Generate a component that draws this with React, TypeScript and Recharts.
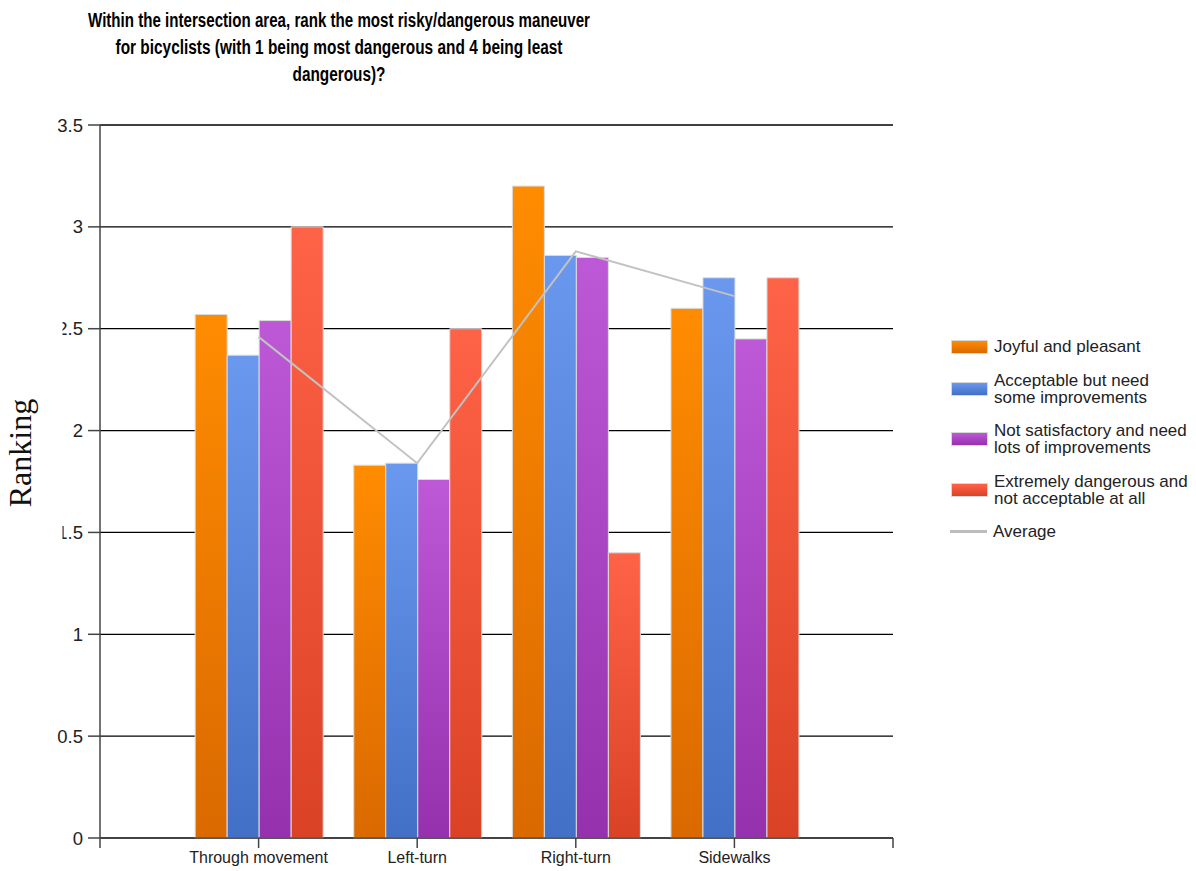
import React from "react";
import {
  ComposedChart,
  Bar,
  Line,
  XAxis,
  YAxis,
  CartesianGrid,
} from "recharts";

const titleLines = [
  "Within the intersection area, rank the most risky/dangerous maneuver",
  "for bicyclists (with 1 being most dangerous and 4 being least",
  "dangerous)?",
];
const categories = ["Through movement", "Left-turn", "Right-turn", "Sidewalks"];
const joyful = [2.57, 1.83, 3.2, 2.6];
const acceptable = [2.37, 1.84, 2.86, 2.75];
const notSatisfactory = [2.54, 1.76, 2.85, 2.45];
const extremely = [3.0, 2.5, 1.4, 2.75];
const average = [2.46, 1.84, 2.88, 2.66];
const yTicks = [0, 0.5, 1, 1.5, 2, 2.5, 3, 3.5];
const xTicks = [0, 1, 2, 3, 4, 5];

const seriesNames = [
  "Joyful and pleasant",
  "Acceptable but need some improvements",
  "Not satisfactory and need lots of improvements",
  "Extremely dangerous and not acceptable at all",
];
const averageName = "Average";

const series = [
  { key: "joyful", name: seriesNames[0], top: "#FF8C00", bottom: "#DA6900" },
  { key: "acceptable", name: seriesNames[1], top: "#6A98EE", bottom: "#4270C6" },
  { key: "notSatisfactory", name: seriesNames[2], top: "#BD58D6", bottom: "#9631AE" },
  { key: "extremely", name: seriesNames[3], top: "#FF6347", bottom: "#DA4226" },
];

const data = categories.map((c, i) => ({
  x: i + 1,
  category: c,
  joyful: joyful[i],
  acceptable: acceptable[i],
  notSatisfactory: notSatisfactory[i],
  extremely: extremely[i],
  avg: average[i],
}));

const FONT = "'Liberation Sans', Arial, sans-serif";
const TEXT = "#222";

const RankingLabel = () => (
  <text
    x={0}
    y={0}
    transform="translate(31,453) rotate(-90)"
    textAnchor="middle"
    fontFamily="'Liberation Serif', 'Times New Roman', serif"
    fontSize={32}
    fill="#111"
  >
    Ranking
  </text>
);

export default function App() {
  return (
    <div
      style={{
        position: "absolute",
        left: 0,
        top: 0,
        width: 1196,
        height: 871,
        background: "#fff",
        overflow: "hidden",
      }}
    >
      <svg width={0} height={0} style={{ position: "absolute" }}>
        <defs>
          {series.map((s) => (
            <linearGradient key={s.key} id={`grad-${s.key}`} x1="0" y1="0" x2="0" y2="1">
              <stop offset="0%" stopColor={s.top} />
              <stop offset="100%" stopColor={s.bottom} />
            </linearGradient>
          ))}
        </defs>
      </svg>

      <ComposedChart
        width={1196}
        height={871}
        data={data}
        margin={{ top: 125, right: 303, bottom: 0, left: 0 }}
        barGap={0}
        barCategoryGap="10%"
      >
        <CartesianGrid vertical={false} stroke="#000" strokeWidth={1.3} />
        <XAxis
          dataKey="x"
          type="number"
          domain={[0, 5]}
          ticks={xTicks}
          interval={0}
          height={33}
          tickSize={10}
          tickMargin={4}
          tickFormatter={(v: number) => (v >= 1 && v <= categories.length ? categories[v - 1] : "")}
          axisLine={{ stroke: "#444", strokeWidth: 1.5 }}
          tickLine={{ stroke: "#444", strokeWidth: 1.5 }}
          tick={{ fontFamily: FONT, fontSize: 16, fill: TEXT }}
        />
        <YAxis
          type="number"
          domain={[0, 3.5]}
          ticks={yTicks}
          interval={0}
          width={100}
          tickSize={12}
          tickMargin={5}
          axisLine={{ stroke: "#444", strokeWidth: 1.5 }}
          tickLine={{ stroke: "#444", strokeWidth: 1.5 }}
          tick={{ fontFamily: FONT, fontSize: 18.5, fill: TEXT }}
          label={<RankingLabel />}
        />
        {series.map((s) => (
          <Bar
            key={s.key}
            dataKey={s.key}
            name={s.name}
            fill={`url(#grad-${s.key})`}
            stroke="#dcdcdc"
            strokeWidth={1}
            isAnimationActive={false}
          />
        ))}
        <Line
          dataKey="avg"
          name={averageName}
          type="linear"
          stroke="#c2c2c2"
          strokeWidth={2}
          dot={false}
          activeDot={false}
          isAnimationActive={false}
        />
      </ComposedChart>

      <svg
        width={1196}
        height={871}
        style={{ position: "absolute", left: 0, top: 0, pointerEvents: "none" }}
      >
        {/* white box beside the axis title that hides the left part of two tick labels, as in the source image */}
        <rect x={40} y={308} width={22.5} height={245} fill="#fff" />
        {titleLines.map((t, i) => (
          <text
            key={i}
            x={339}
            y={27 + i * 27}
            textAnchor="middle"
            fontFamily={FONT}
            fontWeight="bold"
            fontSize={19.5}
            fill="#000"
            textLength={[502, 447, 93][i]}
            lengthAdjust="spacingAndGlyphs"
          >
            {t}
          </text>
        ))}
      </svg>

      <div
        style={{
          position: "absolute",
          left: 950,
          top: 338,
          display: "flex",
          flexDirection: "column",
          gap: 16.5,
          fontFamily: FONT,
          fontSize: 17,
          lineHeight: "17px",
          color: TEXT,
        }}
      >
        {series.map((s) => (
          <div key={s.key} style={{ display: "flex", alignItems: "center" }}>
            <div
              style={{
                width: 35,
                height: 12,
                marginLeft: 1,
                background: `linear-gradient(${s.top}, ${s.bottom})`,
                border: "1px solid #d8d8d8",
                flex: "none",
              }}
            />
            <div style={{ marginLeft: 6, width: 198 }}>{s.name}</div>
          </div>
        ))}
        <div style={{ display: "flex", alignItems: "center" }}>
          <div style={{ width: 37, height: 3, background: "#bdbdbd", flex: "none" }} />
          <div style={{ marginLeft: 6 }}>{averageName}</div>
        </div>
      </div>
    </div>
  );
}
